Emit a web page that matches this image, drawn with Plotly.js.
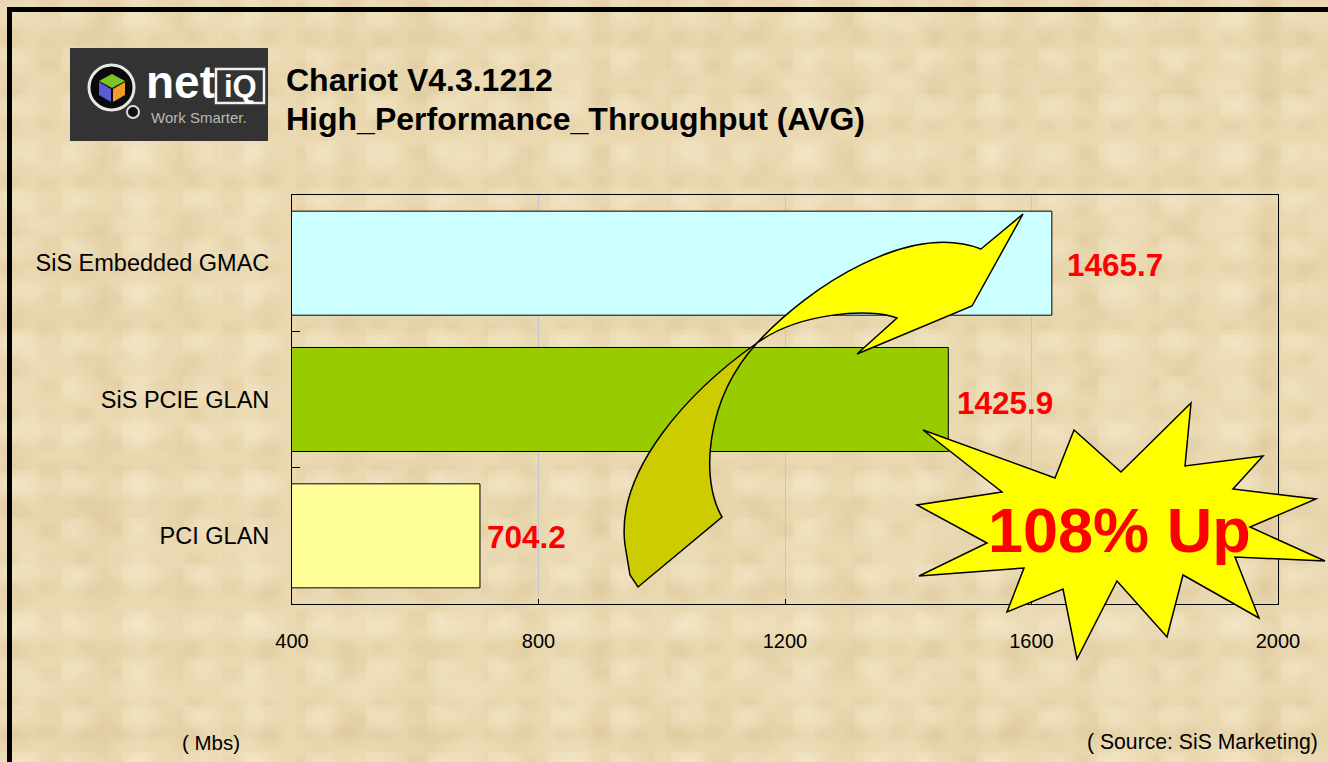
<!DOCTYPE html>
<html>
<head>
<meta charset="utf-8">
<script src="https://cdn.plot.ly/plotly-3.0.1.min.js"></script>
<style>
  html, body { margin:0; padding:0; }
  body {
    width:1328px; height:762px; overflow:hidden; position:relative;
    background-color:#e9d8b0;
    background-image:
      radial-gradient(ellipse 30px 20px at 15px 12px, rgba(255,247,225,0.35), rgba(255,247,225,0) 100%),
      radial-gradient(ellipse 22px 30px at 18px 20px, rgba(200,170,118,0.18), rgba(200,170,118,0) 100%),
      radial-gradient(ellipse 45px 28px at 30px 22px, rgba(250,240,212,0.30), rgba(250,240,212,0) 100%),
      radial-gradient(ellipse 16px 12px at 9px 8px, rgba(205,175,125,0.16), rgba(205,175,125,0) 100%),
      radial-gradient(ellipse 120px 80px at 70px 50px, rgba(214,188,140,0.18), rgba(214,188,140,0) 100%);
    background-size: 61px 47px, 83px 71px, 109px 67px, 37px 29px, 310px 230px;
  }
  #frame { position:absolute; left:7px; top:7px; width:1400px; height:800px;
           border-top:5px solid #000; border-left:5px solid #000; }
  #chart { position:absolute; left:0; top:0; width:1328px; height:762px; }
</style>
</head>
<body>
<div id="frame"></div>
<div id="chart"></div>
<script>
// ---- data ----
const categories = ["PCI GLAN", "SiS PCIE GLAN", "SiS Embedded GMAC"];
const barValues = [705, 1465, 1633];               // bar lengths as drawn
const valueLabels = ["704.2", "1425.9", "1465.7"]; // printed labels
const barColors = ["#ffff99", "#99cc00", "#ccffff"];
const xTicks = [400, 800, 1200, 1600, 2000];
const titleLines = ["Chariot V4.3.1212", "High_Performance_Throughput (AVG)"];
const unitText = "( Mbs)";
const sourceText = "( Source: SiS Marketing)";
const badgeText = "108% Up";

// ---- layout geometry (pixels) ----
const W = 1328, H = 762;
const M = {l:292, r:50, t:195, b:158};
const PW = W - M.l - M.r, PH = H - M.t - M.b;
const px = x => (x - M.l) / PW;
const py = y => (H - M.b - y) / PH;
const P = (x, y) => px(x).toFixed(5) + "," + py(y).toFixed(5);
function poly(pts){ return "M" + pts.map(p => P(p[0], p[1])).join(" L") + " Z"; }

const FONT = "Arial, 'Liberation Sans', sans-serif";

const trace = {
  type: "bar", orientation: "h",
  y: categories, x: barValues,
  marker: {color: barColors, line: {color: "#000", width: 1}},
  hoverinfo: "none"
};

// starburst outline
const star = [[923,430],[1055,478],[1074,430],[1121,472],[1191,403],[1185,466],[1263,456],
  [1233,489],[1316,499],[1250,527],[1325,561],[1235,557],[1259,618],[1183,575],[1167,637],
  [1117,581],[1077,659],[1063,589],[1007,612],[1024,568],[919,576],[987,543],[917,505],[1002,492]];

const tailPath = "M" + P(757,343) + " C" + P(690,390) + " " + P(615,470) + " " + P(625,545) +
  " L" + P(630,575) + " L" + P(638,587) + " L" + P(722,517) +
  " C" + P(700,480) + " " + P(705,400) + " " + P(757,343) + " Z";
const headPath = "M" + P(757,343) + " C" + P(810,285) + " " + P(910,222) + " " + P(981,249) +
  " L" + P(1023,214) + " L" + P(972,306) + " L" + P(857,354) + " L" + P(897,318) +
  " C" + P(870,308) + " " + P(800,312) + " " + P(757,343) + " Z";

// logo pieces
const logoShapes = [
  {type:"rect", xref:"paper", yref:"paper", x0:px(70), x1:px(268), y0:py(141), y1:py(48),
   fillcolor:"#333333", line:{width:0}, layer:"above"},
  {type:"circle", xref:"paper", yref:"paper", x0:px(127), x1:px(139), y0:py(118), y1:py(106),
   fillcolor:"#111", line:{color:"#ddd", width:2}, layer:"above"},
  {type:"circle", xref:"paper", yref:"paper", x0:px(89), x1:px(134), y0:py(110), y1:py(65),
   fillcolor:"#0a0a0a", line:{color:"#e6e6e6", width:3}, layer:"above"},
  {type:"path", xref:"paper", yref:"paper", path: poly([[112,74],[125,81],[112,88],[99,81]]),
   fillcolor:"#7cc424", line:{width:0}, layer:"above"},
  {type:"path", xref:"paper", yref:"paper", path: poly([[99,82],[111,89],[111,102],[99,95]]),
   fillcolor:"#5b5bd6", line:{width:0}, layer:"above"},
  {type:"path", xref:"paper", yref:"paper", path: poly([[113,89],[125,82],[125,95],[113,102]]),
   fillcolor:"#f39a2c", line:{width:0}, layer:"above"},
  {type:"rect", xref:"paper", yref:"paper", x0:px(216), x1:px(264), y0:py(103), y1:py(69),
   fillcolor:"rgba(0,0,0,0)", line:{color:"#f0f0f0", width:2.5}, layer:"above"}
];

const shapes = logoShapes.concat([
  {type:"path", xref:"paper", yref:"paper", path: tailPath, fillcolor:"#cccc00",
   line:{color:"#000", width:1.5}, layer:"above"},
  {type:"path", xref:"paper", yref:"paper", path: headPath, fillcolor:"#ffff00",
   line:{color:"#000", width:1.5}, layer:"above"},
  {type:"path", xref:"paper", yref:"paper", path: poly(star), fillcolor:"#ffff00",
   line:{color:"#000", width:1.5}, layer:"above"}
]);

const annotations = [];
// value labels
for (let i = 0; i < categories.length; i++) {
  annotations.push({x: barValues[i], y: categories[i], xref:"x", yref:"y",
    text: "<b>" + valueLabels[i] + "</b>", showarrow:false, xanchor:"left", yanchor:"middle",
    xshift: [5, 7, 13][i], yshift: [-1, -3, -2][i],
    font:{family:FONT, size:31.5, color:"#ff0000"}});
}
// titles
annotations.push({xref:"paper", yref:"paper", x:px(284), y:py(80), xanchor:"left", yanchor:"middle",
  text:"<b>"+titleLines[0]+"</b>", showarrow:false, font:{family:FONT, size:32, color:"#000"}});
annotations.push({xref:"paper", yref:"paper", x:px(284), y:py(119), xanchor:"left", yanchor:"middle",
  text:"<b>"+titleLines[1]+"</b>", showarrow:false, font:{family:FONT, size:32, color:"#000"}});
// footer texts
annotations.push({xref:"paper", yref:"paper", x:px(180), y:py(742), xanchor:"left", yanchor:"middle",
  text:unitText, showarrow:false, font:{family:FONT, size:20.5, color:"#000"}});
annotations.push({xref:"paper", yref:"paper", x:px(1320), y:py(742), xanchor:"right", yanchor:"middle",
  text:sourceText, showarrow:false, font:{family:FONT, size:21.2, color:"#000"}});
// badge text
annotations.push({xref:"paper", yref:"paper", x:px(1119), y:py(530), xanchor:"center", yanchor:"middle",
  text:"<b>"+badgeText+"</b>", showarrow:false, font:{family:FONT, size:63, color:"#ff0000"}});
// logo text
annotations.push({xref:"paper", yref:"paper", x:px(144), y:py(82), xanchor:"left", yanchor:"middle",
  text:"<b>net</b>", showarrow:false, font:{family:FONT, size:46, color:"#ffffff"}});
annotations.push({xref:"paper", yref:"paper", x:px(240), y:py(86), xanchor:"center", yanchor:"middle",
  text:"<b>iQ</b>", showarrow:false, font:{family:FONT, size:31, color:"#ffffff"}});
annotations.push({xref:"paper", yref:"paper", x:px(149), y:py(118), xanchor:"left", yanchor:"middle",
  text:"Work Smarter.", showarrow:false, font:{family:FONT, size:15, color:"#b8b8b8"}});

const layout = {
  width: W, height: H,
  margin: M,
  paper_bgcolor: "rgba(0,0,0,0)",
  plot_bgcolor: "rgba(0,0,0,0)",
  showlegend: false,
  bargap: 0.237,
  font: {family: FONT, color: "#000"},
  xaxis: {
    range: [xTicks[0], xTicks[xTicks.length-1]],
    tickvals: xTicks, ticktext: xTicks.map(String),
    ticks: "inside", ticklen: 5, tickcolor: "#000",
    showgrid: true, gridcolor: "#c4c4cc", gridwidth: 1,
    showline: true, linecolor: "#000", linewidth: 1, mirror: true,
    zeroline: false, fixedrange: true,
    tickfont: {family: FONT, size: 20, color: "#000"},
    ticklabelstandoff: 19
  },
  yaxis: {
    type: "category", categoryorder: "array", categoryarray: categories,
    ticks: "inside", tickson: "boundaries", ticklen: 8, tickcolor: "#000",
    showgrid: false,
    showline: true, linecolor: "#000", linewidth: 1, mirror: true,
    fixedrange: true,
    tickfont: {family: FONT, size: 23.5, color: "#000"},
    ticklabelstandoff: 17
  },
  shapes: shapes,
  annotations: annotations
};

Plotly.newPlot("chart", [trace], layout, {displayModeBar: false, staticPlot: true});
</script>
</body>
</html>
